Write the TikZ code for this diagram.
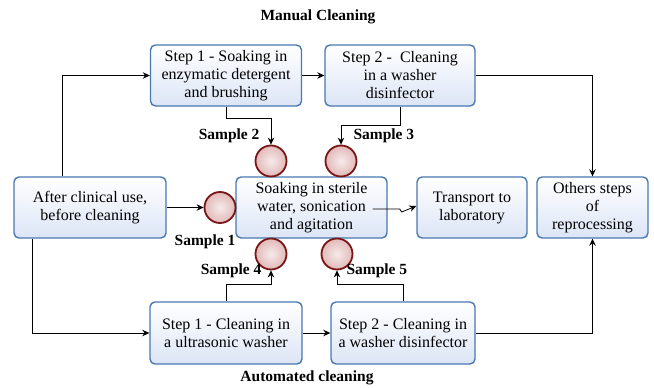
\documentclass[tikz,border=0pt]{standalone}
\usepackage{fontspec}
\setmainfont{Liberation Serif}
\usetikzlibrary{arrows.meta,calc}
\definecolor{boxline}{HTML}{4A78B0}
\definecolor{boxfill}{HTML}{DCE5F6}
\definecolor{circline}{HTML}{7A1616}
\definecolor{circfill}{HTML}{E2B9B9}
\tikzset{
  stepbox/.style={draw=boxline, line width=1.4pt, rounded corners=5pt,
    top color=white, bottom color=boxfill, align=center, inner sep=2pt,
    font=\fontsize{16}{18}\selectfont},
  samp/.style={circle, draw=circline, line width=1.8pt, minimum size=31pt,
    inner sep=0pt, inner color=white!70!circfill, outer color=circfill},
  arr/.style={-{Stealth[length=7pt,width=6.5pt]}, line width=0.8pt},
  lbl/.style={font=\fontsize{15.5}{17}\selectfont\bfseries},
}
\begin{document}
\begin{tikzpicture}[x=1pt,y=-1pt]
\useasboundingbox[fill=white] (0,0) rectangle (654,388);
% boxes
\node[stepbox, minimum width=151pt, minimum height=61pt] (s1top) at (226,75.5) {Step 1 - Soaking in\\enzymatic detergent\\and brushing};
\node[stepbox, minimum width=150pt, minimum height=61pt] (s2top) at (400,75.5) {Step 2 -\ \ Cleaning\\in a washer\\disinfector};
\node[stepbox, minimum width=152pt, minimum height=61pt] (after) at (90,207.5) {After clinical use,\\before cleaning};
\node[stepbox, minimum width=151pt, minimum height=61pt] (soak) at (311.5,207.5) {Soaking in sterile\\water, sonication\\and agitation};
\node[stepbox, minimum width=110pt, minimum height=61pt] (transp) at (472,207.5) {Transport to\\laboratory};
\node[stepbox, minimum width=111pt, minimum height=61pt] (others) at (592.5,207.5) {Others steps\\of\\reprocessing};
\node[stepbox, minimum width=152pt, minimum height=62pt] (s1bot) at (226,333) {Step 1 - Cleaning in\\a ultrasonic washer};
\node[stepbox, minimum width=144pt, minimum height=62pt] (s2bot) at (403,333) {Step 2 - Cleaning in\\a washer disinfector};
% sample circles
\node[samp] (c1) at (220,207.5) {};
\node[samp] (c2) at (271,161) {};
\node[samp] (c3) at (341,161) {};
\node[samp] (c4) at (271,254) {};
\node[samp] (c5) at (337,254) {};
% titles and labels
\node[lbl] (tman) at (318,17) {Manual Cleaning};
\node[lbl] (tauto) at (307,378) {Automated cleaning};
\node[lbl, anchor=east] (l2) at (263,136) {Sample 2};
\node[lbl, anchor=west] (l3) at (350,136) {Sample 3};
\node[lbl] (l1) at (205,242) {Sample 1};
\node[lbl, anchor=east] (l4) at (265,271) {Sample 4};
\node[lbl, anchor=west] (l5) at (343,271) {Sample 5};
% connectors
\draw[arr] ([xshift=-28pt]after.north) |- (s1top.west);
\draw[arr] ([xshift=-58pt]after.south) |- (s1bot.west);
\draw[arr] (s1top.east) -- (s2top.west);
\draw[arr] (s1bot.east) -- (s2bot.west);
\draw[arr] (s2top.east) -| (others.north);
\draw[arr] (s2bot.east) -| (others.south);
\draw[arr] (after.east) -- (c1.west);
\draw[arr] (s1top.south) -- ++(0,12) -| (c2.north);
\draw[arr] (s2top.south) -- ++(0,19) -| (c3.north);
\draw[arr] (s1bot.north) -- ++(0,-17) -| (c4.south);
\draw[arr] (s2bot.north) -- ++(0,-17) -| (c5.south);
\draw[arr] ([xshift=-15pt,yshift=-1.5pt]soak.east) -- ++(27,0) -- ++(2,3) -- ([yshift=1.5pt]transp.west);
\end{tikzpicture}
\end{document}
